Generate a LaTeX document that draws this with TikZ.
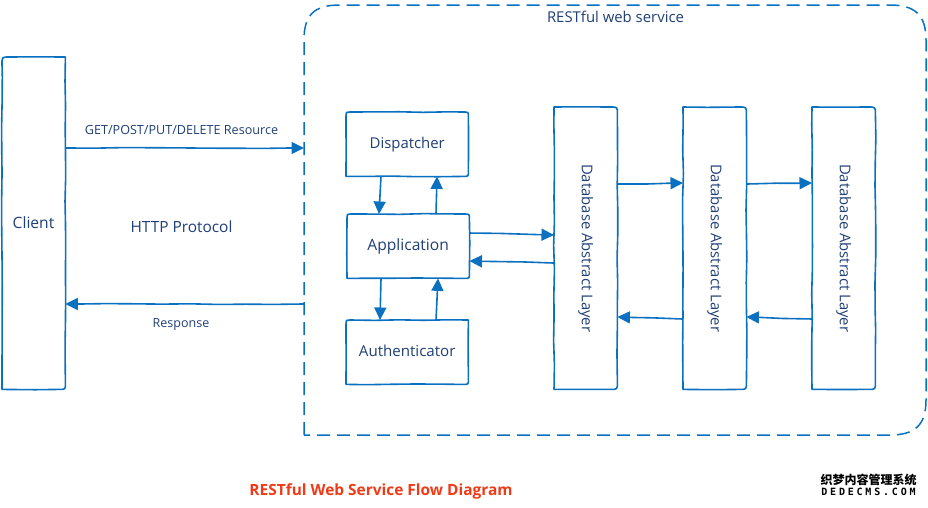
\documentclass[tikz,border=0pt]{standalone}
\usepackage{fontspec}
\setmainfont{Open Sans}
\newfontfamily\cjkwm{Noto Sans CJK SC}
\newfontfamily\wmmono[LetterSpace=28]{DejaVu Sans Mono}
\usetikzlibrary{arrows.meta,decorations.pathmorphing}
\definecolor{ln}{HTML}{0A70C0}
\definecolor{tx}{HTML}{1F3F77}
\definecolor{ttl}{HTML}{F03A17}
\tikzset{
  wob/.style={decoration={random steps,segment length=24pt,amplitude=.45pt}},
  outl/.style={draw=ln,line width=1.6pt,line cap=round,line join=round},
  base/.style={text=tx,inner sep=0pt,anchor=north west},
  sbox/.style={base,minimum width=122pt,minimum height=64pt},
  tallbox/.style={base,minimum width=63pt,minimum height=282pt,font=\fontsize{14.85}{16}\selectfont},
  arr/.style={draw=ln,line width=1.6pt,-{Triangle[length=12.5pt,width=12pt]},
    decorate,decoration={random steps,segment length=28pt,amplitude=.45pt,pre length=2pt,post length=15pt}},
  lab/.style={text=tx,inner sep=0pt}
}
% outline of a node: name, corner radii TL, TR, BR, BL
\newcommand\skbox[5]{%
  \draw[outl]
    decorate[wob]{([yshift=#5]#1.south west) -- ([yshift=-#2]#1.north west)}
    .. controls (#1.north west) .. ([xshift=#2]#1.north west)
    decorate[wob]{([xshift=#2]#1.north west) -- ([xshift=-#3]#1.north east)}
    .. controls (#1.north east) .. ([yshift=-#3]#1.north east)
    decorate[wob]{([yshift=-#3]#1.north east) -- ([yshift=#4]#1.south east)}
    .. controls (#1.south east) .. ([xshift=-#4]#1.south east)
    decorate[wob]{([xshift=-#4]#1.south east) -- ([xshift=#5]#1.south west)}
    .. controls (#1.south west) .. ([yshift=#5]#1.south west);}
\begin{document}
\begin{tikzpicture}[x=1pt,y=-1pt]
\pgfmathsetseed{11}
\useasboundingbox (0,0) rectangle (928,507);
% service container
\node[minimum width=622pt,minimum height=430pt,inner sep=0pt,anchor=north west] (svc) at (304,5) {};
\draw[ln,line width=1.5pt,dash pattern=on 13pt off 7pt] (svc.north west |- 0,435) -- (svc.north west |- 0,40)
  .. controls (304,15) and (314,5) .. (340,5) -- (890,5)
  .. controls (915,5) and (926,15) .. (926,40) -- (926,400)
  .. controls (926,425) and (915,435) .. (890,435) -- cycle;
\node[lab,font=\fontsize{14.9}{16}\selectfont] (svct) at (615.5,17) {RESTful web service};
% client
\node[base,minimum width=63pt,minimum height=332pt] (client) at (2,57) {};
\skbox{client}{7pt}{0pt}{6pt}{0pt}
\node[lab,font=\fontsize{15.6}{17}\selectfont] (clientt) at (33.5,222.5) {Client};
% inner boxes
\node[sbox,font=\fontsize{14.9}{16}\selectfont] (disp) at (346,112) {\raisebox{-2.5pt}{Dispatcher}};
\node[sbox,font=\fontsize{15.6}{17}\selectfont] (app) at (347,214) {\raisebox{-3pt}{Application}};
\node[sbox,font=\fontsize{15.1}{16}\selectfont] (auth) at (346,320) {\raisebox{2pt}{Authenticator}};
\skbox{disp}{5pt}{5pt}{5pt}{0pt}
\skbox{app}{5pt}{5pt}{5pt}{0pt}
\skbox{auth}{5pt}{0pt}{5pt}{0pt}
\node[tallbox] (db1) at (554,107) {\rotatebox{-90}{Database Abstract Layer}};
\node[tallbox] (db2) at (683,107) {\rotatebox{-90}{Database Abstract Layer}};
\node[tallbox] (db3) at (812,107) {\rotatebox{-90}{Database Abstract Layer}};
\skbox{db1}{0pt}{7pt}{7pt}{0pt}
\skbox{db2}{0pt}{7pt}{7pt}{0pt}
\skbox{db3}{0pt}{7pt}{7pt}{0pt}
% connectors
\draw[arr] (client.east |- 0,148) -- (svc.west |- 0,148);
\node[lab,font=\fontsize{12.6}{14}\selectfont] (getl) at (181.5,130) {GET/POST/PUT/DELETE Resource};
\draw[arr] (svc.west |- 0,304) -- (client.east |- 0,304);
\node[lab,font=\fontsize{12.5}{14}\selectfont] (resl) at (181,325) {Response};
\draw[arr] (disp.south -| 381,0) -- (app.north -| 379,0);
\draw[arr] (app.north -| 436,0) -- (disp.south -| 437,0);
\draw[arr] (app.south -| 381,0) -- (auth.north -| 380,0);
\draw[arr] (auth.north -| 436,0) -- (app.south -| 438,0);
\draw[arr] (app.east |- 0,233) -- (db1.west |- 0,235);
\draw[arr] (db1.west |- 0,263) -- (app.east |- 0,261);
\draw[arr] (db1.east |- 0,184) -- (db2.west |- 0,183);
\draw[arr] (db2.west |- 0,319) -- (db1.east |- 0,317);
\draw[arr] (db2.east |- 0,184) -- (db3.west |- 0,183);
\draw[arr] (db3.west |- 0,319) -- (db2.east |- 0,317);
% free labels
\node[lab,font=\fontsize{15.4}{17}\selectfont] (http) at (181.5,226.5) {HTTP Protocol};
\node[text=ttl,inner sep=0pt,font=\fontsize{15.45}{17}\selectfont\bfseries] (title) at (381,491) {RESTful Web Service Flow Diagram};
\node[inner sep=0pt,text=black,font=\cjkwm\fontsize{12}{13}\selectfont\bfseries] (wm1) at (868.5,479.5) {织梦内容管理系统};
\node[inner sep=0pt,text=black,font=\wmmono\fontsize{10}{11}\selectfont\bfseries] (wm2) at (868.5,492) {DEDECMS.COM};
\end{tikzpicture}
\end{document}
